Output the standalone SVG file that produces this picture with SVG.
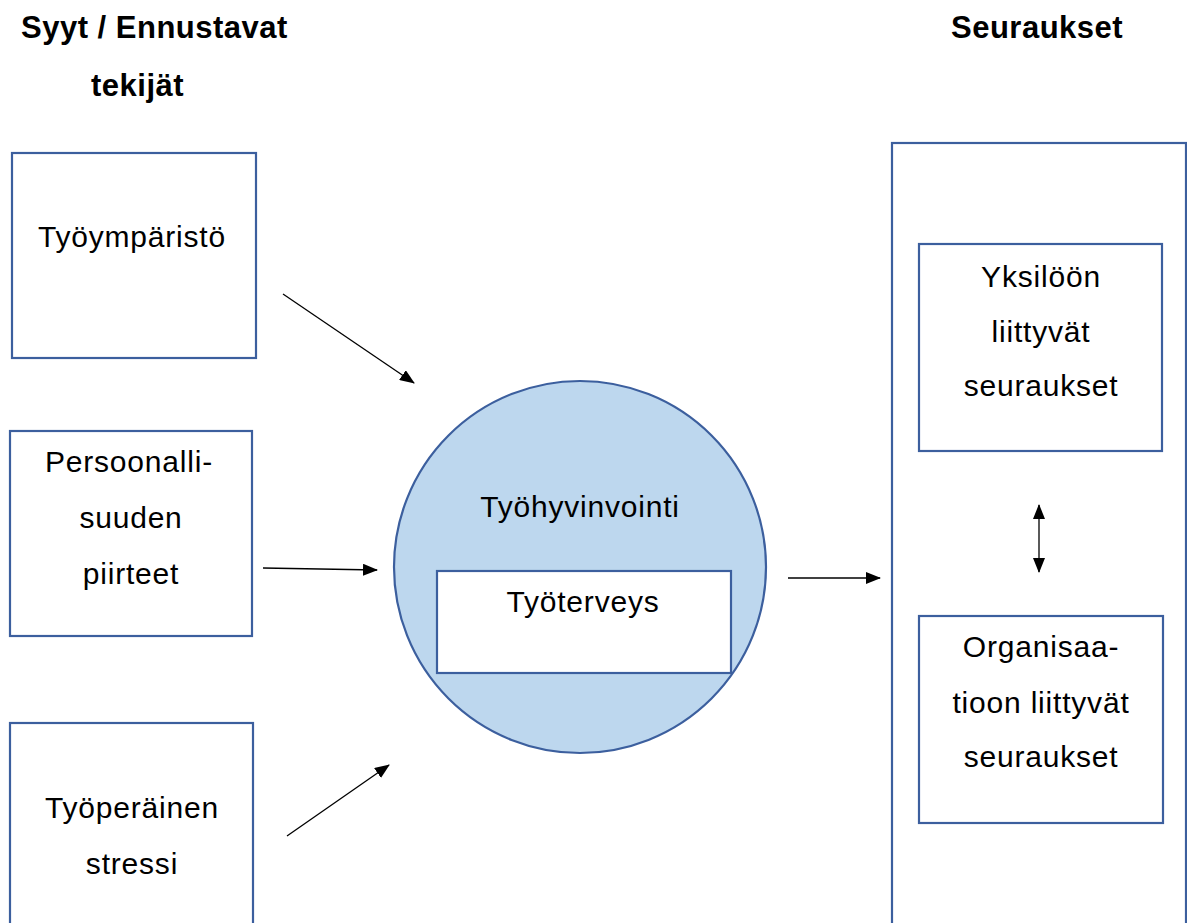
<svg xmlns="http://www.w3.org/2000/svg" width="1187" height="923" viewBox="0 0 1187 923">
<defs>
<style>
.box{fill:#fff;stroke:#3C5F9E;stroke-width:2.2}
.circ{fill:#BDD7EE;stroke:#3C5F9E;stroke-width:2.2}
.t{font-family:"Liberation Sans",Arial,sans-serif;font-size:30px;letter-spacing:0.8px;fill:#000;text-anchor:middle}
.h{font-family:"Liberation Sans",Arial,sans-serif;font-size:31px;letter-spacing:0.5px;font-weight:bold;fill:#000}
.c{stroke:#000;stroke-width:1.3;fill:none}
</style>
<marker id="ah" markerWidth="15" markerHeight="12" refX="14" refY="6" orient="auto" markerUnits="userSpaceOnUse" viewBox="0 0 15 12">
<path d="M0,0 L15,6 L0,12 Z" fill="#000"/>
</marker>
<marker id="as" markerWidth="15" markerHeight="12" refX="1" refY="6" orient="auto" markerUnits="userSpaceOnUse" viewBox="0 0 15 12">
<path d="M15,0 L0,6 L15,12 Z" fill="#000"/>
</marker>
</defs>
<rect width="1187" height="923" fill="#fff"/>
<g id="headers">
<text class="h" x="21" y="38">Syyt / Ennustavat</text>
<text class="h" x="91" y="96">tekijät</text>
<text class="h" x="951" y="38">Seuraukset</text>
</g>
<g id="tyoymparisto">
<rect class="box" x="12" y="153" width="244" height="205"/>
<text class="t" x="132" y="247">Työympäristö</text>
</g>
<g id="persoonallisuus">
<rect class="box" x="10" y="431" width="242" height="205"/>
<text class="t" x="129" y="472">Persoonalli-</text>
<text class="t" x="131" y="528">suuden</text>
<text class="t" x="131" y="584">piirteet</text>
</g>
<g id="stressi">
<rect class="box" x="10" y="723" width="243" height="230"/>
<text class="t" x="132" y="818">Työperäinen</text>
<text class="t" x="132" y="874">stressi</text>
</g>
<g id="tyohyvinvointi">
<circle class="circ" cx="580" cy="567" r="186"/>
<text class="t" x="580" y="517">Työhyvinvointi</text>
</g>
<g id="tyoterveys">
<rect class="box" x="437" y="571" width="294" height="102"/>
<text class="t" x="583" y="612">Työterveys</text>
</g>
<g id="seuraukset">
<rect class="box" x="892" y="143" width="294" height="820"/>
</g>
<g id="yksilo">
<rect class="box" x="919" y="244" width="243" height="207"/>
<text class="t" x="1041" y="287">Yksilöön</text>
<text class="t" x="1041" y="342">liittyvät</text>
<text class="t" x="1041" y="396">seuraukset</text>
</g>
<g id="organisaatio">
<rect class="box" x="919" y="616" width="244" height="207"/>
<text class="t" x="1041" y="657">Organisaa-</text>
<text class="t" x="1041" y="713">tioon liittyvät</text>
<text class="t" x="1041" y="767">seuraukset</text>
</g>
<g id="connectors">
<line class="c" x1="283" y1="294" x2="414" y2="383" marker-end="url(#ah)"/>
<line class="c" x1="263" y1="568" x2="377" y2="570" marker-end="url(#ah)"/>
<line class="c" x1="287" y1="836" x2="389" y2="765" marker-end="url(#ah)"/>
<line class="c" x1="788" y1="578" x2="880" y2="578" marker-end="url(#ah)"/>
<line class="c" x1="1039" y1="505" x2="1039" y2="572" marker-start="url(#as)" marker-end="url(#ah)"/>
</g>
</svg>
